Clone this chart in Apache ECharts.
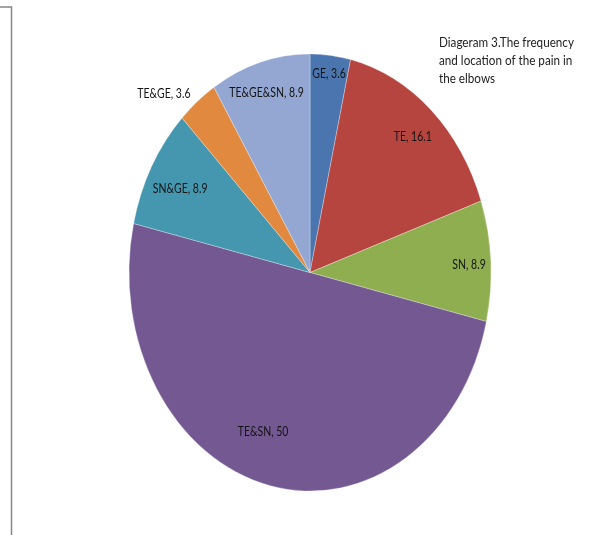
<!DOCTYPE html>
<html>
<head>
<meta charset="utf-8">
<script src="https://cdn.jsdelivr.net/npm/echarts@6/dist/echarts.min.js"></script>
<style>
html,body{margin:0;padding:0;background:#fff;overflow:hidden;}
#chart{width:607px;height:535px;}
</style>
</head>
<body>
<div id="chart"></div>
<script>
// ---- data ----
const categories = ['GE', 'TE', 'SN', 'TE&SN', 'SN&GE', 'TE&GE', 'TE&GE&SN'];
const values = [3.6, 16.1, 8.9, 50, 8.9, 3.6, 8.9];
const titleLines = ['Diageram 3.The frequency', 'and location of the pain in', 'the elbows'];

// ---- style ----
const colors = ['#4a75ae', '#b6453f', '#8fae4f', '#735892', '#4497ae', '#e1893e', '#94a7d2'];
// label placement: radial fraction of the radius, small angular nudge (deg), alignment
const labelRadius = [0.93, 0.85, 0.88, 0.76, 0.82, 1.06, 0.87];
const labelAngleNudge = [0, 0, 0, 7, 0, 0, 0];
const labelAlign = ['center', 'center', 'center', 'center', 'center', 'right', 'center'];
const LABEL_DY = 3;
const FONT = 'Lato';
const K = 1.2077;            // vertical stretch of the (elliptical) pie
const R = 181;               // horizontal radius
const CX = 310, CY = 272.5;  // pie centre

const total = values.reduce((a, b) => a + b, 0);
const cumStart = values.map((v, i) => values.slice(0, i).reduce((a, b) => a + b, 0));

const chart = echarts.init(document.getElementById('chart'), null, {renderer: 'canvas'});

function renderSlice(params, api) {
  const i = params.dataIndex;
  const v = api.value(0);
  const a0 = -Math.PI / 2 + cumStart[i] / total * Math.PI * 2;
  const a1 = a0 + v / total * Math.PI * 2;
  const mid = (a0 + a1) / 2 + labelAngleNudge[i] * Math.PI / 180;
  const f = labelRadius[i];
  return {
    type: 'group',
    children: [
      {
        type: 'sector',
        shape: {cx: CX, cy: CY, r0: 0, r: R, startAngle: a0, endAngle: a1, clockwise: true},
        originX: CX, originY: CY, scaleY: K,
        style: {fill: colors[i], stroke: 'rgba(255,255,255,0.45)', lineWidth: 0.6}
      },
      {
        type: 'text',
        x: CX + Math.cos(mid) * R * f,
        y: CY + Math.sin(mid) * R * f * K + LABEL_DY,
        scaleY: K,
        style: {
          text: categories[i] + ', ' + api.value(0),
          align: labelAlign[i],
          verticalAlign: 'middle',
          fill: '#141414',
          font: '10.5px ' + FONT
        }
      }
    ]
  };
}

const option = {
  animation: false,
  backgroundColor: '#ffffff',
  graphic: [
    {
      type: 'polyline',
      shape: {points: [[0, 7], [11.5, 7], [11.5, 535]]},
      style: {stroke: '#858585', lineWidth: 1.5, fill: null}
    },
    {
      type: 'text',
      x: 439, y: 33,
      scaleY: K,
      style: {
        text: titleLines.join('\n'),
        font: '11.7px ' + FONT,
        lineHeight: 15,
        fill: '#222',
        align: 'left',
        verticalAlign: 'top'
      }
    }
  ],
  series: [{
    type: 'custom',
    coordinateSystem: 'none',
    renderItem: renderSlice,
    data: values.map((v, i) => ({name: categories[i], value: [v]}))
  }]
};
chart.setOption(option);
</script>
</body>
</html>
